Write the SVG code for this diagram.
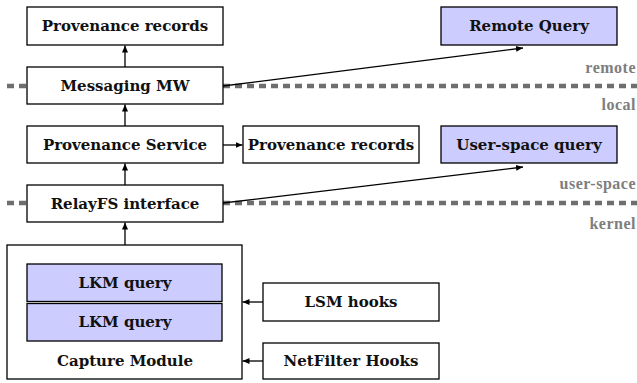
<svg xmlns="http://www.w3.org/2000/svg" width="637" height="383" viewBox="0 0 637 383">
<defs>
<marker id="arr" markerUnits="userSpaceOnUse" markerWidth="8" markerHeight="6" refX="7" refY="3" orient="auto">
<path d="M0,0 L7,3 L0,6 Z" fill="#000"/>
</marker>
</defs>
<style>
.box{fill:#fff;stroke:#000;stroke-width:1.3}
.q{fill:#ccccff;stroke:#000;stroke-width:1.3}
.t{font-weight:bold;font-size:15px;text-anchor:middle;fill:#111}
.g{font-weight:bold;font-size:16px;letter-spacing:0.5px;text-anchor:end;fill:#7e7e7e}
.dash{stroke:#6e6e6e;stroke-width:4.5;stroke-dasharray:7 5;fill:none}
.c{stroke:#000;stroke-width:1.3;fill:none;marker-end:url(#arr)}
</style>
<g id="layers">
<line class="dash" x1="7" y1="86" x2="637" y2="86"/>
<line class="dash" x1="7" y1="203" x2="637" y2="203"/>
<text class="g" font-family="Liberation Serif" x="636" y="73">remote</text>
<text class="g" font-family="Liberation Serif" x="636" y="110">local</text>
<text class="g" font-family="Liberation Serif" x="636" y="189">user-space</text>
<text class="g" font-family="Liberation Serif" x="636" y="229">kernel</text>
</g>
<g font-family="DejaVu Serif, serif">
<g id="prov-records-top"><rect class="box" x="27" y="7" width="196" height="38"/><text class="t" x="125" y="31">Provenance records</text></g>
<g id="remote-query"><rect class="q" x="441" y="7" width="176" height="38"/><text class="t" x="529" y="31">Remote Query</text></g>
<g id="messaging-mw"><rect class="box" x="27" y="67" width="196" height="37"/><text class="t" x="125" y="91">Messaging MW</text></g>
<g id="prov-service"><rect class="box" x="27" y="126" width="196" height="37"/><text class="t" x="125" y="150">Provenance Service</text></g>
<g id="prov-records-local"><rect class="box" x="243" y="126" width="176" height="37"/><text class="t" x="331" y="150">Provenance records</text></g>
<g id="user-space-query"><rect class="q" x="441" y="126" width="176" height="37"/><text class="t" x="529" y="150">User-space query</text></g>
<g id="relayfs"><rect class="box" x="27" y="185" width="196" height="37"/><text class="t" x="125" y="209">RelayFS interface</text></g>
<g id="capture-module"><rect class="box" x="7" y="245" width="235" height="134"/><text class="t" x="125" y="366">Capture Module</text>
<g id="lkm-query-1"><rect class="q" x="27" y="264" width="195" height="37.5"/><text class="t" x="125" y="288">LKM query</text></g>
<g id="lkm-query-2"><rect class="q" x="27" y="303.5" width="195" height="37.5"/><text class="t" x="125" y="327">LKM query</text></g>
</g>
<g id="lsm-hooks"><rect class="box" x="263" y="283" width="176" height="38"/><text class="t" x="351" y="307">LSM hooks</text></g>
<g id="netfilter-hooks"><rect class="box" x="263" y="343" width="176" height="36"/><text class="t" x="351" y="366">NetFilter Hooks</text></g>
</g>
<g id="connectors">
<line class="c" x1="125" y1="67" x2="125" y2="45.5"/>
<line class="c" x1="125" y1="126" x2="125" y2="104.5"/>
<line class="c" x1="125" y1="185" x2="125" y2="163.5"/>
<line class="c" x1="125" y1="245" x2="125" y2="222.5"/>
<line class="c" x1="223" y1="145" x2="242.5" y2="145"/>
<line class="c" x1="223" y1="86" x2="523" y2="48"/>
<line class="c" x1="223" y1="203" x2="523" y2="167"/>
<line class="c" x1="263" y1="302" x2="242.5" y2="302"/>
<line class="c" x1="263" y1="361" x2="242.5" y2="361"/>
</g>
</svg>
